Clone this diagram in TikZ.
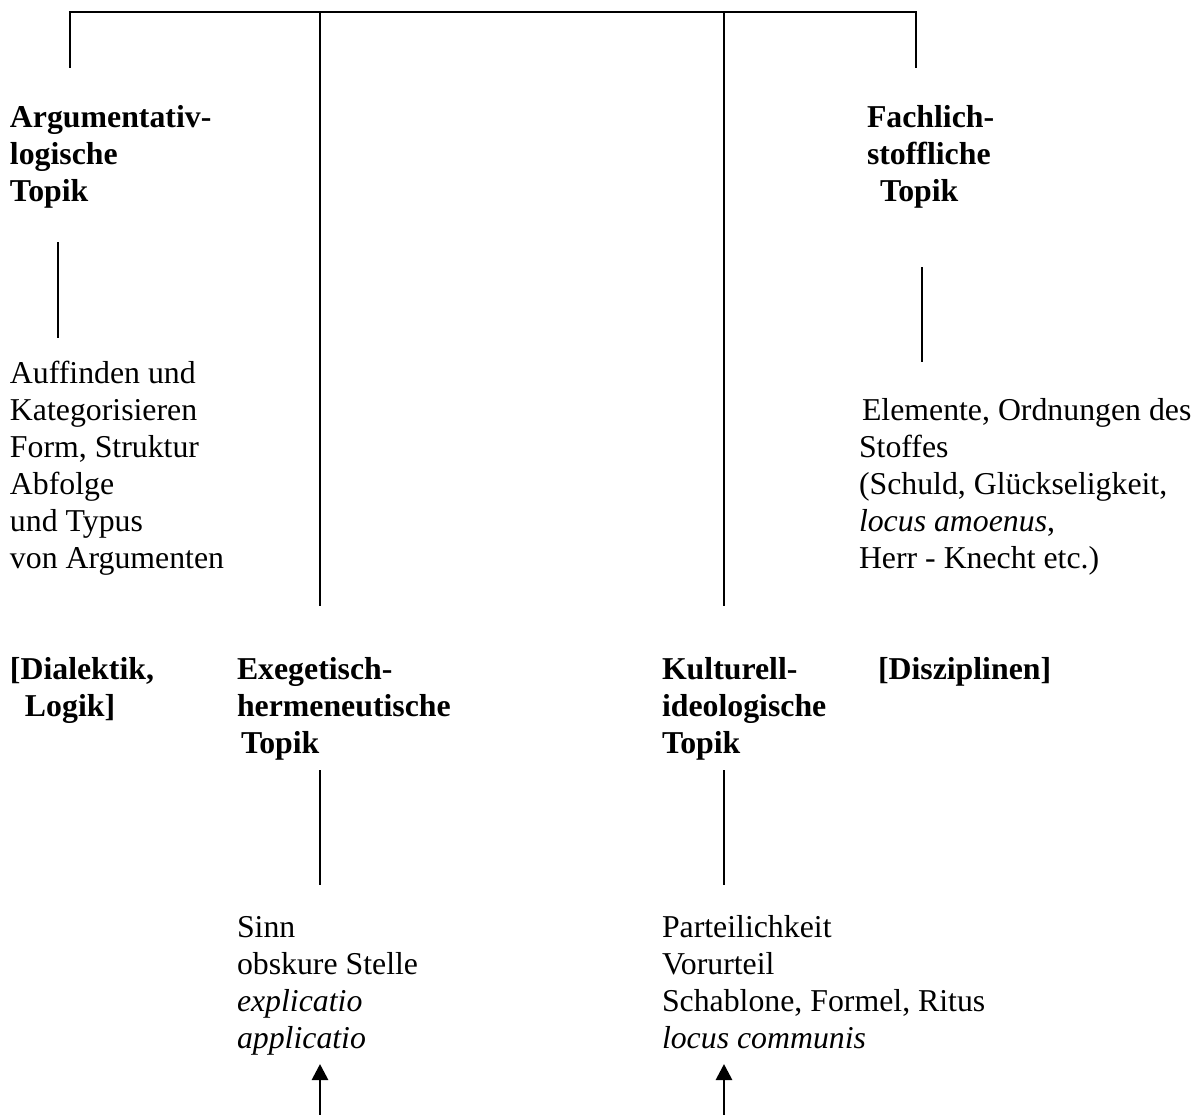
\documentclass[tikz,border=0pt]{standalone}
\usepackage{fontspec}
\setmainfont{Liberation Serif}
\usetikzlibrary{arrows.meta}
\begin{document}
\begin{tikzpicture}[x=0.5pt,y=-0.5pt,
  txt/.style={anchor=base west,align=left,inner sep=0pt,outer sep=0pt,
    font=\fontsize{15.9pt}{18.5pt}\selectfont},
  hd/.style={txt,font=\fontsize{15.9pt}{18.5pt}\selectfont\bfseries},
  ln/.style={line width=1.25pt,line cap=butt},
  arr/.style={line width=1.4pt,-{Triangle[length=8pt,width=8pt]}}]
\useasboundingbox (0,0) rectangle (1201,1115);

% top bus
\coordinate (b1) at (70,12);
\coordinate (b2) at (320,12);
\coordinate (b3) at (724,12);
\coordinate (b4) at (916,12);
\coordinate (e1) at (70,68);
\coordinate (e2) at (320,606);
\coordinate (e3) at (724,606);
\coordinate (e4) at (916,68);
\draw[ln] ([xshift=-0.625pt]b1) -- ([xshift=0.625pt]b4);
\draw[ln] (b1) -- (e1);
\draw[ln] (b2) -- (e2);
\draw[ln] (b3) -- (e3);
\draw[ln] (b4) -- (e4);

% headings (anchor = baseline of last line)
\node[hd] (arg) at (10,201) {Argumentativ-\\logische\\Topik};
\node[hd] (fach) at (867,201) {Fachlich-\\stoffliche\\\hspace{6.5pt}Topik};

\coordinate (a1) at (58,242);
\coordinate (a2) at (58,338);
\draw[ln] (a1) -- (a2);
\coordinate (f1) at (922,267);
\coordinate (f2) at (922,362);
\draw[ln] (f1) -- (f2);

\node[txt] (auf) at (10,568) {Auffinden und\\Kategorisieren\\Form, Struktur\\Abfolge\\und Typus\\von Argumenten};
\node[txt] (elem) at (859,568) {\hspace{1.5pt}Elemente, Ordnungen des\\Stoffes\\(Schuld, Glückseligkeit,\\\textit{locus amoenus},\\Herr - Knecht etc.)};

% middle headings
\node[hd] (dial) at (10,716) {[Dialektik,\\\hspace{7.5pt}Logik]};
\node[hd] (exe) at (237,753) {Exegetisch-\\hermeneutische\\\hspace{2pt}Topik};
\node[hd] (kult) at (662,753) {Kulturell-\\ideologische\\Topik};
\node[hd] (disz) at (878,679) {[Disziplinen]};

\coordinate (x1) at (320,770);
\coordinate (x2) at (320,885);
\draw[ln] (x1) -- (x2);
\coordinate (k1) at (724,770);
\coordinate (k2) at (724,885);
\draw[ln] (k1) -- (k2);

\node[txt] (sinn) at (237,1048) {Sinn\\obskure Stelle\\\textit{explicatio}\\\textit{applicatio}};
\node[txt] (part) at (662,1048) {Parteilichkeit\\Vorurteil\\Schablone, Formel, Ritus\\\textit{locus communis}};

% arrows
\coordinate (s1) at (320,1115);
\coordinate (t1) at (320,1064);
\coordinate (s2) at (724,1115);
\coordinate (t2) at (724,1064);
\draw[arr] (s1) -- (t1);
\draw[arr] (s2) -- (t2);
\end{tikzpicture}
\end{document}
